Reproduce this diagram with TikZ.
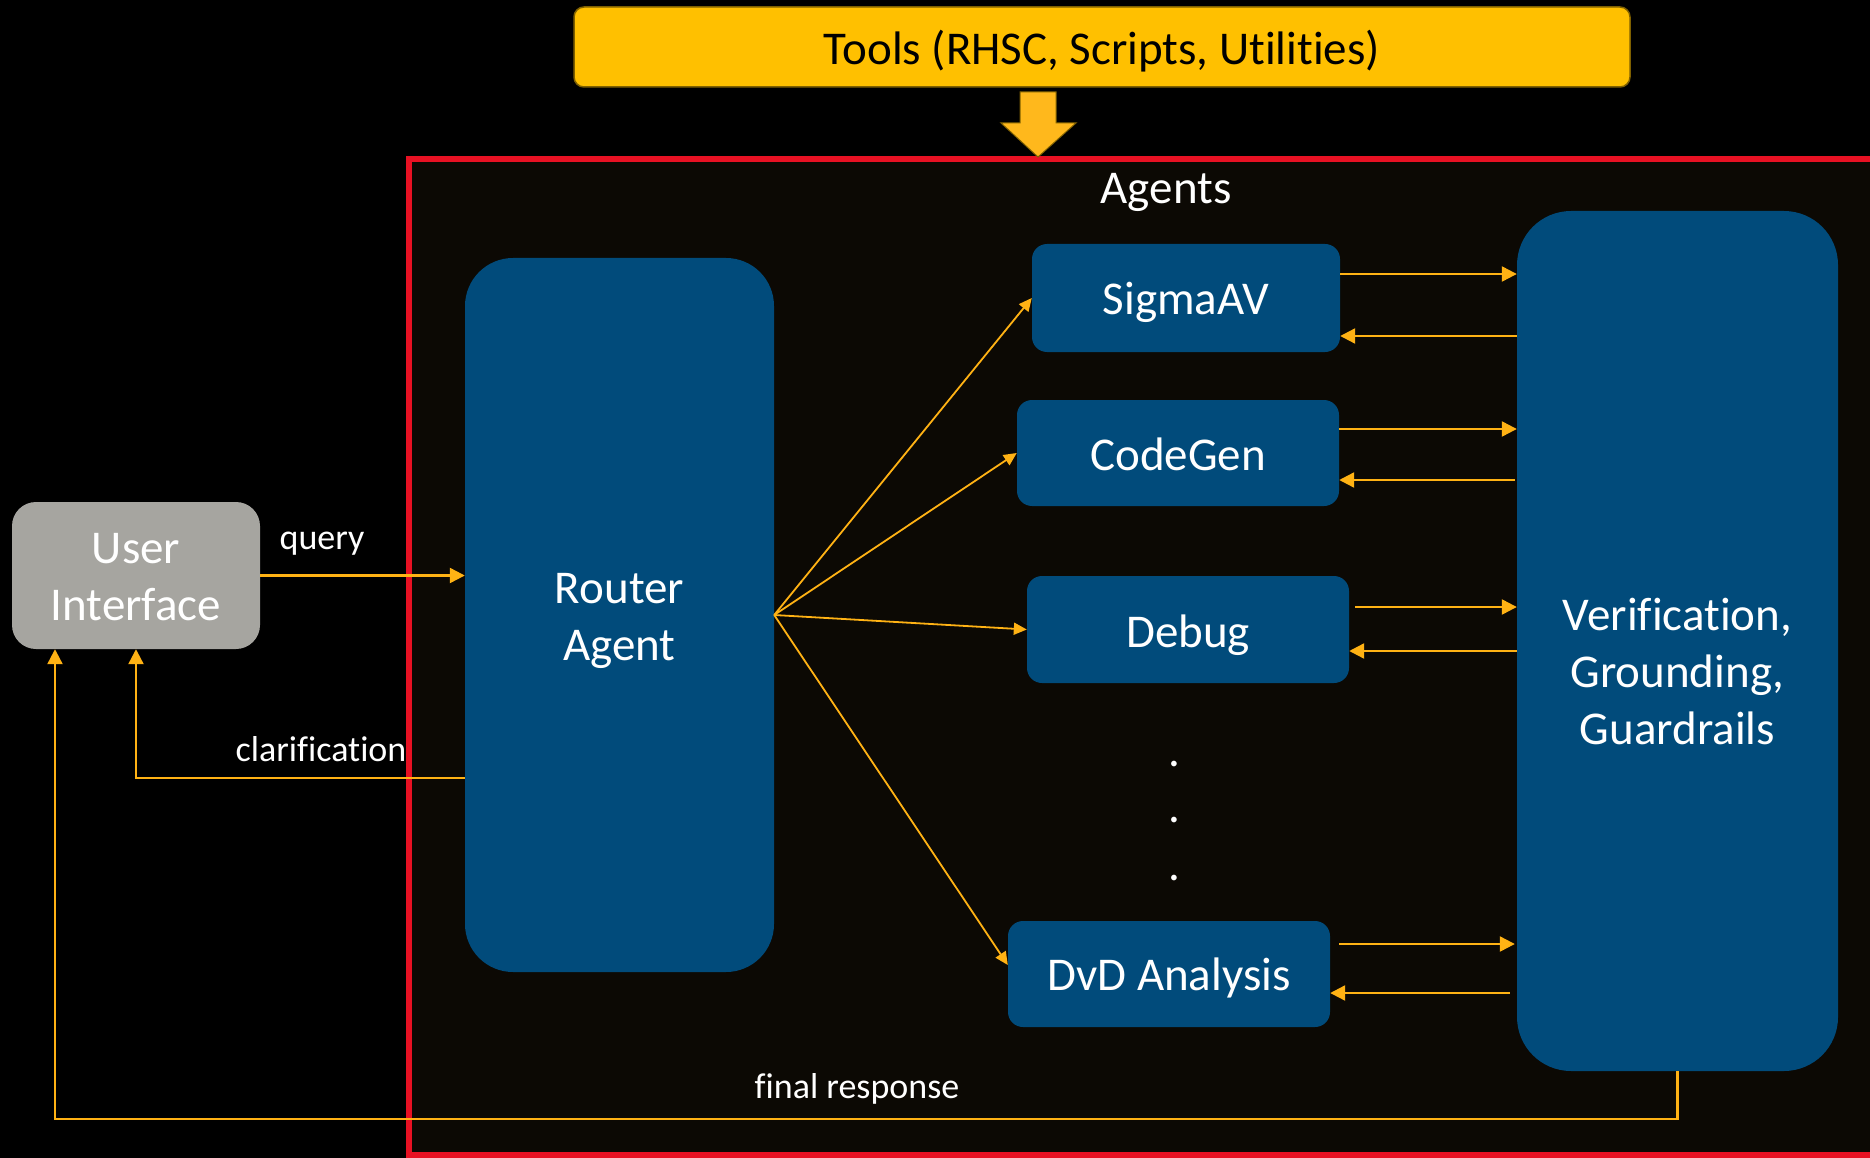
\documentclass[tikz,border=0pt]{standalone}
\usepackage{fontspec}
\setmainfont[Ligatures={NoCommon}]{Carlito}
\usetikzlibrary{arrows.meta,calc}
\definecolor{agentblue}{RGB}{1,75,123}
\definecolor{uigrey}{RGB}{166,165,160}
\definecolor{arrorange}{RGB}{255,178,20}
\definecolor{toolyellow}{RGB}{255,192,0}
\definecolor{tooledge}{RGB}{127,96,0}
\definecolor{framered}{RGB}{232,17,35}
\definecolor{framefill}{RGB}{12,9,4}
\definecolor{bigarrow}{RGB}{255,184,28}
\begin{document}
\begin{tikzpicture}[x=1pt,y=-1pt,
  bigfont/.style={font=\fontsize{47}{57}\selectfont},
  lblfont/.style={font=\fontsize{36}{43}\selectfont, text=white},
  boxtext/.style={bigfont, text=white, align=center, inner sep=0pt},
  agentbox/.style={fill=agentblue, draw=none, rounded corners=15pt, inner sep=0pt,
     minimum width=322pt, minimum height=106pt},
  arr/.style={draw=arrorange, line width=2.3pt, -{Triangle[length=15pt,width=15pt]}},
  fanarr/.style={draw=arrorange, line width=1.8pt, -{Triangle[length=13pt,width=12pt]}}]
% background
\fill[black] (0,0) rectangle (1870,1158);
\useasboundingbox (0,0) rectangle (1870,1158);
% agents frame
\draw[framered, line width=6pt, fill=framefill] (409,159) rectangle (1890,1155);
\node[text=white, bigfont, anchor=base] (agentslbl) at (1166,204) {Agents};
% tools
\node[fill=toolyellow, draw=tooledge, line width=1.5pt, rounded corners=10pt,
      minimum width=1056pt, minimum height=80pt, inner sep=0pt]
      (tools) at (1102,47) {};
\node[boxtext, text=black] (toolstxt) at ($(tools.center)+(0,4)$) {Tools (RHSC, Scripts, Utilities)};
% down block arrow
\draw[fill=bigarrow, draw=tooledge, line width=1pt]
  (1020,92) -- (1056,92) -- (1056,123) -- (1076,123) -- (1038,157) -- (1001,123) -- (1020,123) -- cycle;
% nodes
\node[fill=uigrey, rounded corners=24pt, minimum width=248pt, minimum height=147pt,
      inner sep=0pt] (ui) at (136,575.5) {};
\node[boxtext] (uitxt) at ($(ui.center)+(0,2)$) {User\\Interface};
\node[fill=agentblue, rounded corners=48pt, minimum width=309pt, minimum height=714pt,
      inner sep=0pt] (router) at (619.5,615) {};
\node[boxtext] (routertxt) at ($(router.center)+(0,6)$) {Router\\Agent};
\node[agentbox, minimum width=308pt, minimum height=108pt] (sig) at (1186,298) {};
\node[boxtext] (sigtxt) at ($(sig.center)+(0,4)$) {SigmaAV};
\node[agentbox] (code) at (1178,453) {};
\node[boxtext] (codetxt) at ($(code.center)+(0,1)$) {CodeGen};
\node[agentbox, minimum height=107pt] (debug) at (1188,629.5) {};
\node[boxtext] (debugtxt) at ($(debug.center)+(0,6)$) {Debug};
\node[agentbox] (dvd) at (1169,974) {};
\node[boxtext] (dvdtxt) at ($(dvd.center)+(0,4)$) {DvD Analysis};
\node[fill=agentblue, rounded corners=54pt, minimum width=321pt, minimum height=860pt,
      inner sep=0pt] (verif) at (1677.5,641) {};
\node[boxtext] (veriftxt) at ($(verif.center)+(0,30)$) {Verification,\\Grounding,\\Guardrails};
% dots
\node[text=white, bigfont, anchor=base, inner sep=0pt] (dot1) at (1174,766) {.};
\node[text=white, bigfont, anchor=base, inner sep=0pt] (dot2) at (1174,822) {.};
\node[text=white, bigfont, anchor=base, inner sep=0pt] (dot3) at (1174,880) {.};
% query
\draw[arr] (ui.east) -- (ui.east -| router.west);
\node[lblfont, anchor=base] (qlbl) at (322,549) {query};
% clarification
\path ([yshift=-163pt]router.west) coordinate (cl);
\draw[arr] (cl) -| (ui.south);
\node[lblfont, anchor=base] (cllbl) at (321,761) {clarification};
% final response
\path ([xshift=-81pt]ui.south) coordinate (fr);
\draw[arr] (verif.south) -- ++(0,48) -| (fr);
\node[lblfont, anchor=base] (frlbl) at (857,1098) {final response};
% fan
\draw[fanarr] (router.east) -- (sig.west);
\draw[fanarr] (router.east) -- (code.west);
\draw[fanarr] (router.east) -- (debug.west);
\draw[fanarr] (router.east) -- ([yshift=9pt]dvd.west);
% sigma
\path ([yshift=24pt]sig.east) coordinate (s1);
\path ([yshift=-38pt]sig.east) coordinate (s2);
\draw[arr] (s1) -- (s1 -| verif.west);
\draw[arr] (s2 -| verif.west) -- (s2);
% codegen
\path ([yshift=24pt]code.east) coordinate (c1);
\path ([yshift=-27pt]code.east) coordinate (c2);
\draw[arr] (c1) -- (c1 -| verif.west);
\draw[arr] ([xshift=-2pt]c2 -| verif.west) -- (c2);
% debug
\path ([yshift=22.5pt,xshift=6pt]debug.east) coordinate (d1);
\path ([yshift=-21.5pt]debug.east) coordinate (d2);
\draw[arr] (d1) -- (d1 -| verif.west);
\draw[arr] (d2 -| verif.west) -- (d2);
% dvd
\path ([yshift=30pt,xshift=9pt]dvd.east) coordinate (v1);
\path ([yshift=-19pt]dvd.east) coordinate (v2);
\draw[arr] (v1) -- ([xshift=-2pt]v1 -| verif.west);
\draw[arr] ([xshift=-7pt]v2 -| verif.west) -- (v2);
\end{tikzpicture}
\end{document}
